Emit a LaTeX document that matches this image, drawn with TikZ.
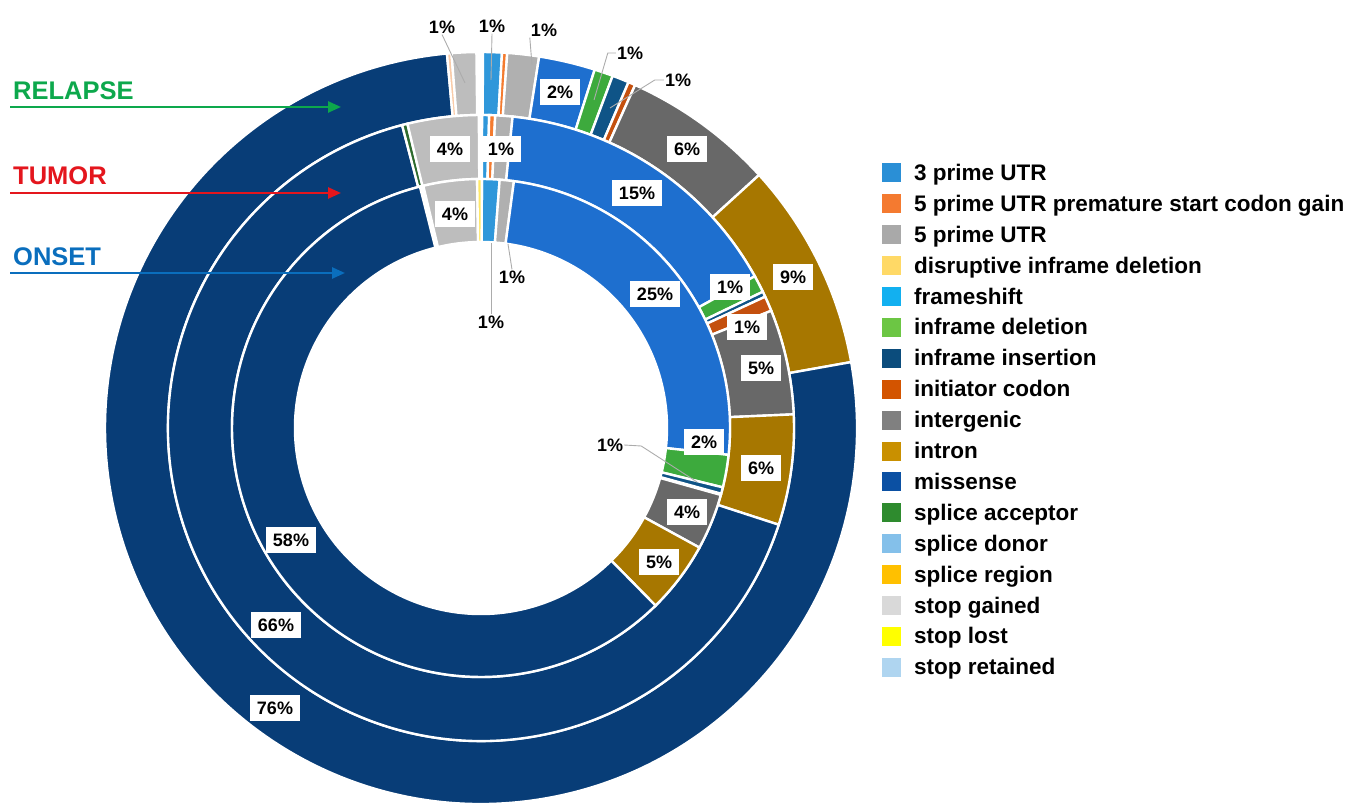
\documentclass[tikz,border=0pt]{standalone}
\usepackage{fontspec}
\setmainfont{Liberation Sans}
\usetikzlibrary{arrows.meta}
% chart colours
\definecolor{cMiss}{HTML}{083D77}
\definecolor{cFrame}{HTML}{1E6FCF}
\definecolor{cInterg}{HTML}{686868}
\definecolor{cIntron}{HTML}{A77700}
\definecolor{cGray}{HTML}{B0B0B0}
\definecolor{cStopG}{HTML}{BDBDBD}
\definecolor{cUTR3}{HTML}{2F97DA}
\definecolor{cPrem}{HTML}{F47B2F}
\definecolor{cInDel}{HTML}{3DAA3D}
\definecolor{cInIns}{HTML}{0F5487}
\definecolor{cInit}{HTML}{C4500E}
\definecolor{cSplAcc}{HTML}{2E6B2E}
\definecolor{cStopL}{HTML}{FFE866}
\definecolor{cSplReg}{HTML}{F9CBA8}
% legend colours
\definecolor{L1}{HTML}{2A8FD6}
\definecolor{L2}{HTML}{F47A30}
\definecolor{L3}{HTML}{A9A9A9}
\definecolor{L4}{HTML}{FFD966}
\definecolor{L5}{HTML}{12B0F0}
\definecolor{L6}{HTML}{6CC644}
\definecolor{L7}{HTML}{0B4C7C}
\definecolor{L8}{HTML}{D35400}
\definecolor{L9}{HTML}{808080}
\definecolor{L10}{HTML}{C99000}
\definecolor{L11}{HTML}{0B50A3}
\definecolor{L12}{HTML}{2E8B2E}
\definecolor{L13}{HTML}{84C0EA}
\definecolor{L14}{HTML}{FFC000}
\definecolor{L15}{HTML}{D9D9D9}
\definecolor{L16}{HTML}{FFFF00}
\definecolor{L17}{HTML}{AFD5F0}
% stage colours
\definecolor{cRel}{HTML}{0DA84C}
\definecolor{cTum}{HTML}{E4161D}
\definecolor{cOns}{HTML}{0A6EBD}

\newcommand\annseg[5]{% r_in, r_out, a_start, a_end (clockwise from top), colour
  \filldraw[fill=#5, draw=white, line width=2.4pt]
    ({90-(#3)}:#2) arc[start angle={90-(#3)}, end angle={90-(#4)}, radius=#2]
    -- ({90-(#4)}:#1) arc[start angle={90-(#4)}, end angle={90-(#3)}, radius=#1] -- cycle;}

\tikzset{
  seglbl/.style={fill=white, font=\fontsize{18}{20}\selectfont\bfseries, inner xsep=7pt, inner ysep=6.5pt, text height=13pt, text depth=0.3pt},
  freelbl/.style={font=\fontsize{18}{20}\selectfont\bfseries, inner sep=1pt},
  leader/.style={draw=gray!65, line width=0.9pt},
  legtxt/.style={font=\fontsize{22.5}{26}\selectfont\bfseries, anchor=base west, inner sep=0pt},
  legsq/.style={minimum size=19pt, inner sep=0pt},
  stagearrow/.style={line width=2.5pt, -{Triangle[length=13pt,width=11pt]}},
  stagetxt/.style={font=\fontsize{25.5}{28}\selectfont\bfseries, anchor=base west, inner sep=0pt},
}

\begin{document}
\begin{tikzpicture}[x=1pt,y=1pt]
\useasboundingbox (0,0) rectangle (1359,805);

% ---------------- rings ----------------
\begin{scope}[shift={(481,377)}]
  % outer ring: RELAPSE
  \annseg{313}{376}{0.3}{3.2}{cUTR3}
  \annseg{313}{376}{3.2}{4.0}{cPrem}
  \annseg{313}{376}{4.0}{8.9}{cGray}
  \annseg{313}{376}{8.9}{17.6}{cFrame}
  \annseg{313}{376}{17.6}{20.5}{cInDel}
  \annseg{313}{376}{20.5}{23.1}{cInIns}
  \annseg{313}{376}{23.1}{24.2}{cInit}
  \annseg{313}{376}{24.2}{47.7}{cInterg}
  \annseg{313}{376}{47.7}{79.9}{cIntron}
  \annseg{313}{376}{79.9}{354.8}{cMiss}
  \annseg{313}{376}{354.8}{355.5}{cSplReg}
  \annseg{313}{376}{355.5}{359.3}{cStopG}
  % middle ring: TUMOR
  \annseg{249}{313}{0.2}{1.5}{cUTR3}
  \annseg{249}{313}{1.5}{2.6}{cPrem}
  \annseg{249}{313}{2.6}{5.8}{cGray}
  \annseg{249}{313}{5.8}{61.0}{cFrame}
  \annseg{249}{313}{61.0}{64.2}{cInDel}
  \annseg{249}{313}{64.2}{65.2}{cInIns}
  \annseg{249}{313}{65.2}{68.0}{cInit}
  \annseg{249}{313}{68.0}{87.5}{cInterg}
  \annseg{249}{313}{87.5}{108.0}{cIntron}
  \annseg{249}{313}{108.0}{345.4}{cMiss}
  \annseg{249}{313}{345.4}{346.4}{cSplAcc}
  \annseg{249}{313}{346.4}{359.6}{cStopG}
  % inner ring: ONSET
  \annseg{186}{249}{0.2}{4.3}{cUTR3}
  \annseg{186}{249}{4.3}{7.6}{cGray}
  \annseg{186}{249}{7.6}{96.2}{cFrame}
  \annseg{186}{249}{96.2}{103.8}{cInDel}
  \annseg{186}{249}{103.8}{105.3}{cInIns}
  \annseg{186}{249}{105.6}{118.7}{cInterg}
  \annseg{186}{249}{118.7}{135.5}{cIntron}
  \annseg{186}{249}{135.5}{345.8}{cMiss}
  \annseg{186}{249}{346.6}{359.1}{cStopG}
  \annseg{186}{249}{359.1}{360.2}{cStopL}
\end{scope}

% ---------------- everything else in pixel coordinates (y downwards) ----------------
\begin{scope}[yshift=805pt, y=-1pt]
  % stage arrows
  \node[stagetxt, text=cRel] (relTxt) at (13,100) {RELAPSE};
  \coordinate (relA) at (10,107); \coordinate (relB) at (341,107);
  \draw[stagearrow, cRel] (relA) -- (relB);
  \node[stagetxt, text=cTum] (tumTxt) at (13,185) {TUMOR};
  \coordinate (tumA) at (10,193); \coordinate (tumB) at (341,193);
  \draw[stagearrow, cTum] (tumA) -- (tumB);
  \node[stagetxt, text=cOns] (onsTxt) at (13,266) {ONSET};
  \coordinate (onsA) at (10,273); \coordinate (onsB) at (345,273);
  \draw[stagearrow, cOns] (onsA) -- (onsB);

  % boxed labels: outer ring
  \node[seglbl] (o2)  at (560,92)  {2\%};
  \node[seglbl] (o6)  at (687,149) {6\%};
  \node[seglbl] (o9)  at (793,277) {9\%};
  \node[seglbl] (o76) at (275,708) {76\%};
  % middle ring
  \node[seglbl] (m4)  at (450,149) {4\%};
  \node[seglbl] (m1a) at (501,149) {1\%};
  \node[seglbl] (m15) at (637,193) {15\%};
  \node[seglbl] (m1b) at (730,287) {1\%};
  \node[seglbl] (m1c) at (747,327) {1\%};
  \node[seglbl] (m5)  at (761,368) {5\%};
  \node[seglbl] (m6)  at (761,468) {6\%};
  \node[seglbl] (m66) at (276,625) {66\%};
  % inner ring
  \node[seglbl] (i4)  at (455,214) {4\%};
  \node[seglbl] (i25) at (655,294) {25\%};
  \node[seglbl] (i2)  at (704,442) {2\%};
  \node[seglbl] (i4b) at (687,512) {4\%};
  \node[seglbl] (i5)  at (659,562) {5\%};
  \node[seglbl] (i58) at (291,540) {58\%};

  % free labels with leader lines
  \node[freelbl] (t1) at (442,27) {1\%};
  \coordinate (g1) at (465,83);
  \draw[leader] (t1.south) -- (g1);
  \node[freelbl] (t2) at (492,26) {1\%};
  \coordinate (g2) at (491,80);
  \draw[leader] (t2.south) -- (g2);
  \node[freelbl] (t3) at (544,30) {1\%};
  \coordinate (g3) at (532,65);
  \draw[leader] (t3.south west) -- (g3);
  \node[freelbl] (t4) at (630,53) {1\%};
  \coordinate (g4) at (594,100);
  \draw[leader] (t4.west) -- ++(-8,0) -- (g4);
  \node[freelbl] (t5) at (678,80) {1\%};
  \coordinate (g5) at (610,108);
  \draw[leader] (t5.west) -- ++(-9,0) -- (g5);
  \node[freelbl] (t6) at (512,277) {1\%};
  \coordinate (g6) at (508,244);
  \draw[leader] (t6.north) -- (g6);
  \node[freelbl] (t7) at (491,322) {1\%};
  \coordinate (g7) at (491,243);
  \draw[leader] (t7.north) -- (g7);
  \node[freelbl] (t8) at (610,445) {1\%};
  \coordinate (g8) at (697,482);
  \draw[leader] (t8.east) -- ++(17,1) -- (g8);

  % legend
  \foreach \i/\c/\t in {0/L1/3 prime UTR, 1/L2/5 prime UTR premature start codon gain, 2/L3/5 prime UTR,
      3/L4/disruptive inframe deletion, 4/L5/frameshift, 5/L6/inframe deletion, 6/L7/inframe insertion,
      7/L8/initiator codon, 8/L9/intergenic, 9/L10/intron, 10/L11/missense, 11/L12/splice acceptor,
      12/L13/splice donor, 13/L14/splice region, 14/L15/stop gained, 15/L16/stop lost, 16/L17/stop retained} {
    \node[legsq, fill=\c] (sq\i) at (891.5,{173+30.9*\i}) {};
    \node[legtxt] (lt\i) at (914,{180.5+30.9*\i}) {\t};
  }
\end{scope}
\end{tikzpicture}
\end{document}
